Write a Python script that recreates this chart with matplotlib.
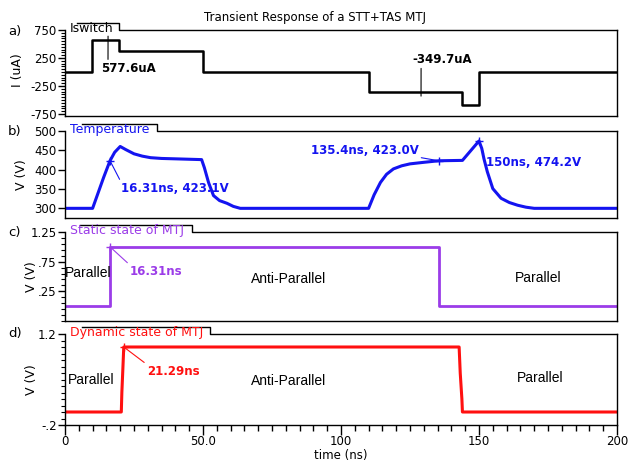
import matplotlib
matplotlib.use("Agg")
import numpy as np
import matplotlib.pyplot as plt
from matplotlib.ticker import FixedLocator, MultipleLocator

plt.rcParams["axes.unicode_minus"] = False
plt.rcParams["font.family"] = "DejaVu Sans"

# ---- data ----
# a) switching current (uA), step-post
t_current = [0, 9.7, 19.7, 50.0, 110.0, 143.7, 150.0, 200.0]
i_current = [0, 577.6, 375, 0, -349.7, -590, 0, 0]

# b) temperature (K, axis labelled V)
t_temp = [0, 10, 12, 14, 16.31, 18, 20, 22, 25, 28, 31, 35, 40, 49.5,
          50.5, 52, 53.8, 56, 58.7, 61, 63.5, 110, 112, 114.3, 116.5, 119,
          122, 125, 130, 135.4, 144, 150, 151, 151.8, 153, 155, 158, 161,
          164, 167, 170, 200]
temp = [300, 300, 340, 380, 423.1, 445, 460, 452, 441, 435, 431, 429, 428,
        426, 405, 367, 333, 320, 313, 305, 300, 300, 335, 367, 388, 402,
        410, 415, 419, 423.0, 424, 474.2, 455, 428, 395, 351, 326, 315,
        308, 303, 300, 300]

# c) static state, step-post
t_static = [0, 16.31, 135.4, 200]
v_static = [0, 1.0, 0, 0]

# d) dynamic state
t_dyn = [0, 20.4, 20.6, 21.0, 21.29, 142.8, 143.2, 143.8, 144.0, 200]
v_dyn = [0, 0, 0.3, 0.7, 1.0, 1.0, 0.6, 0.2, 0, 0]

W, H = 629, 462
L, R = 65, 617
frames = [(30, 116), (131, 218), (232, 321), (334, 425)]
tab_px = [(77, 119), (82, 157), (80, 192), (82, 210)]
titles = ["Iswitch", "Temperature", "Static state of MTJ", "Dynamic state of MTJ"]
blue = "#1414f0"
purple = "#9b3ce8"
red = "#ff1010"
colors = ["black", blue, purple, red]

fig = plt.figure(figsize=(W / 100, H / 100), dpi=100)
axes = []
for (top, bot) in frames:
    ax = fig.add_axes([L / W, 1 - bot / H, (R - L) / W, (bot - top) / H])
    axes.append(ax)

for k, ax in enumerate(axes):
    top, bot = frames[k]
    h = bot - top
    ax.set_xlim(0, 200)
    ax.spines["top"].set_visible(False)
    for s in ["left", "right", "bottom"]:
        ax.spines[s].set_linewidth(1.0)
    # title tab above the frame
    xl = (tab_px[k][0] - L) / (R - L)
    xr = (tab_px[k][1] - L) / (R - L)
    yt = 1 + 7 / h
    ax.plot([xl, xr, xr, 1], [yt, yt, 1, 1], transform=ax.transAxes,
            color="black", lw=1.0, clip_on=False)
    ax.text(5 / (R - L), 1 + 1.5 / h, titles[k], transform=ax.transAxes,
            ha="left", va="center", color=colors[k], fontsize=9)
    ax.tick_params(axis="y", direction="out", length=5, width=1,
                   labelsize=8.5, pad=1)
    ax.tick_params(axis="y", which="minor", direction="out", length=3, width=0.8)
    if k < 3:
        ax.tick_params(axis="x", which="both", bottom=False, labelbottom=False)

# a) current
ax = axes[0]
ax.plot(t_current, i_current, drawstyle="steps-post", color="black", lw=1.8)
ax.set_ylim(-785, 750)
ax.set_yticks([750, 250, -250, -750], ["750", "250", "-250", "-750"])
ax.yaxis.set_minor_locator(MultipleLocator(50))
ax.annotate("577.6uA", xy=(15.6, 640), xytext=(13.2, 60), color="black",
            fontsize=8.5, fontweight="bold", ha="left", va="center",
            arrowprops=dict(arrowstyle="-", color="black", lw=0.8,
                            shrinkA=0, shrinkB=0, relpos=(0.12, 1)))
ax.annotate("-349.7uA", xy=(129, -430), xytext=(126, 230), color="black",
            fontsize=8.5, fontweight="bold", ha="left", va="center",
            arrowprops=dict(arrowstyle="-", color="black", lw=0.8,
                            shrinkA=0, shrinkB=0, relpos=(0.14, 1.1)))

# b) temperature
ax = axes[1]
ax.plot(t_temp, temp, color=blue, lw=2.2)
ax.set_ylim(275, 500)
ax.set_yticks([300, 350, 400, 450, 500])
marks_b = [(16.31, 423.1), (135.4, 423.0), (150, 474.2)]
ax.plot([m[0] for m in marks_b], [m[1] for m in marks_b], "+", color=blue,
        ms=6, mew=1)
ax.annotate("16.31ns, 423.1V", xy=marks_b[0], xytext=(20.3, 351), color=blue,
            fontsize=8.5, fontweight="bold", ha="left", va="center",
            arrowprops=dict(arrowstyle="-", color=blue, lw=0.8,
                            shrinkA=0, shrinkB=0, relpos=(0, 1)))
ax.annotate("135.4ns, 423.0V", xy=marks_b[1], xytext=(89, 449), color=blue,
            fontsize=8.5, fontweight="bold", ha="left", va="center",
            arrowprops=dict(arrowstyle="-", color=blue, lw=0.8,
                            shrinkA=0, shrinkB=0, relpos=(1, 0)))
ax.annotate("150ns, 474.2V", xy=marks_b[2], xytext=(152.4, 418), color=blue,
            fontsize=8.5, fontweight="bold", ha="left", va="center",
            arrowprops=dict(arrowstyle="-", color=blue, lw=0.8,
                            shrinkA=0, shrinkB=0, relpos=(0, 0.8)))

# c) static state
ax = axes[2]
ax.plot(t_static, v_static, drawstyle="steps-post", color=purple, lw=2.0)
ax.set_ylim(-0.25, 1.25)
ax.set_yticks([0.25, 0.75, 1.25], [".25", ".75", "1.25"])
ax.yaxis.set_minor_locator(FixedLocator(np.arange(-0.25, 1.26, 0.1)))
ax.plot([16.31], [1.0], "+", color=purple, ms=6, mew=1)
ax.annotate("16.31ns", xy=(16.31, 1.0), xytext=(23.6, 0.58), color=purple,
            fontsize=8.5, fontweight="bold", ha="left", va="center",
            arrowprops=dict(arrowstyle="-", color=purple, lw=0.8,
                            shrinkA=0, shrinkB=0, relpos=(0, 1)))
state_font = dict(family="Liberation Sans", fontsize=10, ha="center", va="center")
ax.text(8.4, 0.56, "Parallel", **state_font)
ax.text(81, 0.46, "Anti-Parallel", **state_font)
ax.text(171.5, 0.47, "Parallel", **state_font)

# d) dynamic state
ax = axes[3]
ax.plot(t_dyn, v_dyn, color=red, lw=2.2)
ax.set_ylim(-0.2, 1.2)
ax.set_yticks([1.2, -0.2], ["1.2", "-.2"])
ax.yaxis.set_minor_locator(FixedLocator(np.arange(-0.2, 1.21, 0.1)))
ax.plot([21.29], [1.0], "+", color=red, ms=6, mew=1)
ax.annotate("21.29ns", xy=(21.29, 1.0), xytext=(29.7, 0.63), color=red,
            fontsize=8.5, fontweight="bold", ha="left", va="center",
            arrowprops=dict(arrowstyle="-", color=red, lw=0.8,
                            shrinkA=0, shrinkB=0, relpos=(0, 1)))
ax.text(9.5, 0.5, "Parallel", **state_font)
ax.text(81, 0.47, "Anti-Parallel", **state_font)
ax.text(172, 0.53, "Parallel", **state_font)
ax.set_xticks([0, 50, 100, 150, 200], ["0", "50.0", "100", "150", "200"])
ax.xaxis.set_minor_locator(MultipleLocator(5))
ax.tick_params(axis="x", which="major", direction="out", length=7, width=1,
               labelsize=8.5, pad=0)
ax.tick_params(axis="x", which="minor", direction="out", length=4, width=1)

# figure-level texts
fig.text(341 / W, 1 - 455 / H, "time (ns)", ha="center", va="center",
         fontsize=8.5)
fig.text(315 / W, 1 - 18 / H, "Transient Response of a STT+TAS MTJ",
         ha="center", va="center", fontsize=8.5)
for lab, y in zip(["a)", "b)", "c)", "d)"], [31, 132, 233, 334]):
    fig.text(8 / W, 1 - y / H, lab, ha="left", va="center", fontsize=9.5)
for lab, x, y in zip(["I (uA)", "V (V)", "V (V)", "V (V)"],
                     [18, 22, 32, 32], [70, 175, 277, 380]):
    fig.text(x / W, 1 - y / H, lab, rotation=90, ha="center", va="center",
             fontsize=9)

fig.savefig("out.png", dpi=100)
